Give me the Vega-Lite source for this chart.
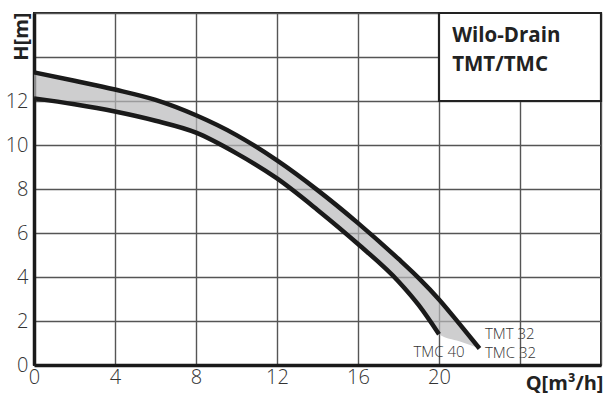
{
  "$schema": "https://vega.github.io/schema/vega-lite/v6.json",
  "width": 567,
  "height": 352,
  "autosize": "none",
  "padding": {"left": 34, "top": 13, "right": 9, "bottom": 33},
  "background": "white",
  "config": {
    "font": "Open Sans",
    "view": {"stroke": "#222", "strokeWidth": 2},
    "axis": {
      "grid": true,
      "gridColor": "#555",
      "gridWidth": 1.4,
      "ticks": false,
      "labelFlush": false,
      "domainColor": "#1a1a1a",
      "domainWidth": 3.5,
      "labelFont": "Open Sans",
      "labelFontSize": 20,
      "labelFontWeight": 300,
      "labelColor": "#333",
      "titleFont": "Open Sans",
      "titleFontSize": 20,
      "titleFontWeight": "bold",
      "titleColor": "#222"
    }
  },
  "datasets": {
    "band": [
      {"Q": 0, "hi": 13.3, "lo": 12.12},
      {"Q": 2, "hi": 12.92, "lo": 11.85},
      {"Q": 4, "hi": 12.52, "lo": 11.52},
      {"Q": 6, "hi": 12.05, "lo": 11.1},
      {"Q": 8, "hi": 11.35, "lo": 10.56},
      {"Q": 10, "hi": 10.45, "lo": 9.62},
      {"Q": 12, "hi": 9.3, "lo": 8.48},
      {"Q": 14, "hi": 7.95, "lo": 7.05},
      {"Q": 16, "hi": 6.45, "lo": 5.5},
      {"Q": 18, "hi": 4.82, "lo": 3.8},
      {"Q": 19, "hi": 3.95, "lo": 2.72},
      {"Q": 20, "hi": 2.98, "lo": 1.4},
      {"Q": 21, "hi": 1.88, "lo": 1.075},
      {"Q": 22, "hi": 0.75, "lo": 0.75}
    ],
    "curves": [
      {"Q": 0, "H": 13.3, "s": "TMT 32"},
      {"Q": 2, "H": 12.92, "s": "TMT 32"},
      {"Q": 4, "H": 12.52, "s": "TMT 32"},
      {"Q": 6, "H": 12.05, "s": "TMT 32"},
      {"Q": 8, "H": 11.35, "s": "TMT 32"},
      {"Q": 10, "H": 10.45, "s": "TMT 32"},
      {"Q": 12, "H": 9.3, "s": "TMT 32"},
      {"Q": 14, "H": 7.95, "s": "TMT 32"},
      {"Q": 16, "H": 6.45, "s": "TMT 32"},
      {"Q": 18, "H": 4.82, "s": "TMT 32"},
      {"Q": 19, "H": 3.95, "s": "TMT 32"},
      {"Q": 20, "H": 2.98, "s": "TMT 32"},
      {"Q": 21, "H": 1.88, "s": "TMT 32"},
      {"Q": 22, "H": 0.75, "s": "TMT 32"},
      {"Q": 0, "H": 12.12, "s": "TMC 40"},
      {"Q": 2, "H": 11.85, "s": "TMC 40"},
      {"Q": 4, "H": 11.52, "s": "TMC 40"},
      {"Q": 6, "H": 11.1, "s": "TMC 40"},
      {"Q": 8, "H": 10.56, "s": "TMC 40"},
      {"Q": 10, "H": 9.62, "s": "TMC 40"},
      {"Q": 12, "H": 8.48, "s": "TMC 40"},
      {"Q": 14, "H": 7.05, "s": "TMC 40"},
      {"Q": 16, "H": 5.5, "s": "TMC 40"},
      {"Q": 18, "H": 3.8, "s": "TMC 40"},
      {"Q": 19, "H": 2.72, "s": "TMC 40"},
      {"Q": 20, "H": 1.4, "s": "TMC 40"}
    ],
    "box": [{"q1": 20, "q2": 28, "h1": 12, "h2": 16}],
    "boxText": [
      {"Q": 20.65, "H": 14.67, "t": "Wilo-Drain"},
      {"Q": 20.65, "H": 13.36, "t": "TMT/TMC"}
    ],
    "labelsLeft": [
      {"Q": 22.27, "H": 1.17, "t": "TMT 32"},
      {"Q": 22.27, "H": 0.31, "t": "TMC 32"}
    ],
    "labelsCenter": [
      {"Q": 20.0, "H": 0.35, "t": "TMC 40"}
    ]
  },
  "layer": [
    {
      "data": {"name": "band"},
      "mark": {"type": "area", "interpolate": "monotone", "color": "#b9b9bb", "opacity": 0.7},
      "encoding": {
        "x": {
          "field": "Q", "type": "quantitative",
          "scale": {"domain": [0, 28], "nice": false, "zero": false},
          "axis": {
            "values": [0, 4, 8, 12, 16, 20, 24, 28],
            "labelExpr": "datum.value <= 20 ? datum.label : ''",
            "labelPadding": 2,
            "title": "Q[m³/h]",
            "titleAnchor": "end",
            "titleAlign": "right",
            "titleBaseline": "alphabetic",
            "titleX": 569,
            "titleY": 24
          }
        },
        "y": {
          "field": "hi", "type": "quantitative",
          "scale": {"domain": [0, 16], "nice": false},
          "axis": {
            "values": [0, 2, 4, 6, 8, 10, 12, 14, 16],
            "labelExpr": "datum.value <= 12 ? datum.label : ''",
            "labelPadding": 6,
            "title": "H[m]",
            "titleAngle": -90,
            "titleAlign": "right",
            "titleBaseline": "alphabetic",
            "titleX": -7,
            "titleY": -1
          }
        },
        "y2": {"field": "lo"}
      }
    },
    {
      "data": {"name": "curves"},
      "mark": {"type": "line", "interpolate": "monotone", "color": "#1a1a1a", "strokeWidth": 4.5, "strokeCap": "butt"},
      "encoding": {
        "x": {"field": "Q", "type": "quantitative"},
        "y": {"field": "H", "type": "quantitative"},
        "detail": {"field": "s"}
      }
    },
    {
      "data": {"name": "box"},
      "mark": {"type": "rect", "fill": "white", "stroke": "#222", "strokeWidth": 2.2},
      "encoding": {
        "x": {"field": "q1", "type": "quantitative"},
        "x2": {"field": "q2"},
        "y": {"field": "h1", "type": "quantitative"},
        "y2": {"field": "h2"}
      }
    },
    {
      "data": {"name": "boxText"},
      "mark": {"type": "text", "align": "left", "baseline": "alphabetic", "fontSize": 20.5, "fontWeight": "bold", "color": "#222", "font": "Open Sans"},
      "encoding": {
        "x": {"field": "Q", "type": "quantitative"},
        "y": {"field": "H", "type": "quantitative"},
        "text": {"field": "t"}
      }
    },
    {
      "data": {"name": "labelsLeft"},
      "mark": {"type": "text", "align": "left", "baseline": "alphabetic", "fontSize": 15, "fontWeight": 300, "color": "#333", "font": "Open Sans"},
      "encoding": {
        "x": {"field": "Q", "type": "quantitative"},
        "y": {"field": "H", "type": "quantitative"},
        "text": {"field": "t"}
      }
    },
    {
      "data": {"name": "labelsCenter"},
      "mark": {"type": "text", "align": "center", "baseline": "alphabetic", "fontSize": 15, "fontWeight": 300, "color": "#333", "font": "Open Sans"},
      "encoding": {
        "x": {"field": "Q", "type": "quantitative"},
        "y": {"field": "H", "type": "quantitative"},
        "text": {"field": "t"}
      }
    }
  ]
}
